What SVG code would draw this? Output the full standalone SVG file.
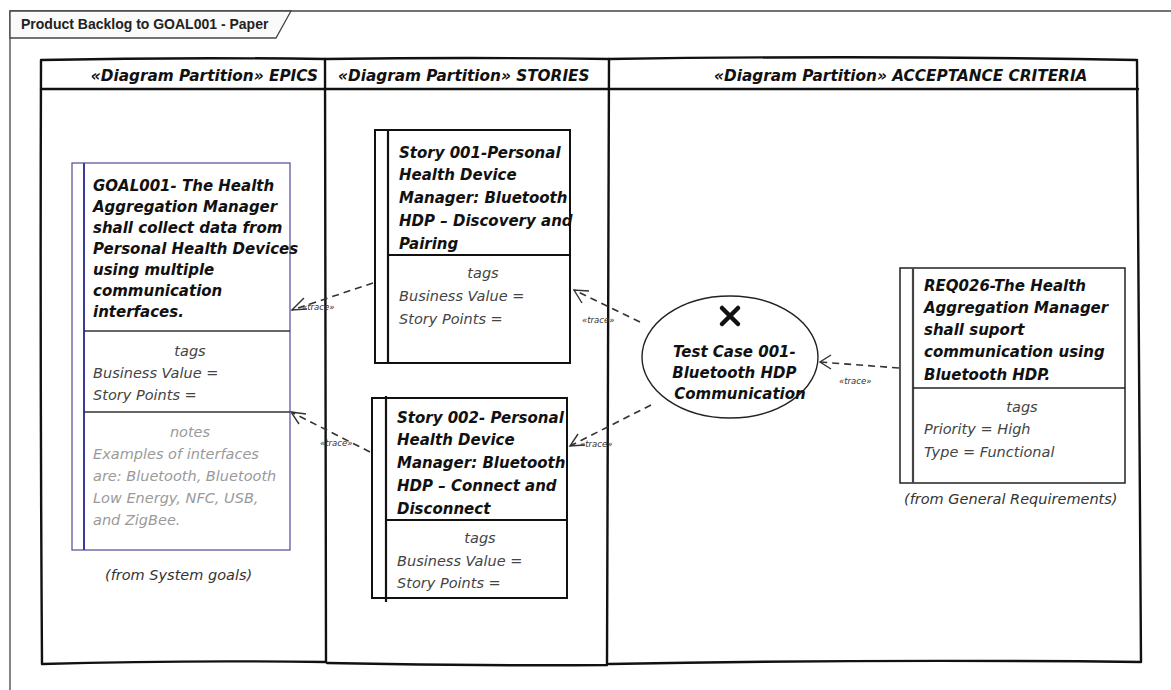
<svg xmlns="http://www.w3.org/2000/svg" width="1171" height="690" viewBox="0 0 1171 690">
  <defs>
    <style>
      .frame { fill: none; stroke: #444; stroke-width: 1.3; }
      .tab { fill: #fafafa; stroke: #444; stroke-width: 1.3; }
      .tabtxt { font-family: "Liberation Sans", Arial, sans-serif; font-weight: bold; font-size: 14px; fill: #222; }
      .part { fill: none; stroke: #111; stroke-width: 2.4; stroke-linejoin: round; stroke-linecap: round; }
      .phead { font-family: "DejaVu Sans", "Open Sans", sans-serif; font-style: italic; font-weight: bold; font-size: 15.3px; fill: #111; }
      .box { fill: #fff; stroke: #111; stroke-width: 2; }
      .boxblue { fill: #fff; stroke: #5a5a9a; stroke-width: 1.3; }
      .title { font-family: "DejaVu Sans", "Open Sans", sans-serif; font-style: italic; font-weight: bold; font-size: 15px; fill: #111; }
      .attr { font-family: "DejaVu Sans", "Open Sans", sans-serif; font-style: italic; font-size: 14.5px; fill: #444; }
      .note { font-family: "DejaVu Sans", "Open Sans", sans-serif; font-style: italic; font-size: 14.5px; fill: #9a9a9a; }
      .from { font-family: "DejaVu Sans", "Open Sans", sans-serif; font-style: italic; font-size: 14.5px; fill: #333; }
      .conn { fill: none; stroke: #333; stroke-width: 1.6; stroke-dasharray: 7 5; }
      .head { fill: none; stroke: #333; stroke-width: 1.4; }
      .lbl { font-family: "DejaVu Sans", "Open Sans", sans-serif; font-style: italic; font-size: 8.5px; fill: #333; }
    </style>
  </defs>

  <!-- diagram frame and name tab -->
  <g id="frame">
    <path class="frame" d="M10,690 L10,11 L1171,11"/>
    <path class="tab" d="M10,11 L291,11 L276,38 L10,38 Z"/>
    <text class="tabtxt" x="21" y="29">Product Backlog to GOAL001 - Paper</text>
  </g>

  <!-- partitions -->
  <g id="partition-epics">
    <path class="part" d="M41,60 Q180,57 325,59 L326,662 Q180,660 42,664 Q40,360 41,60 Z"/>
    <path class="part" d="M41,89 L325,89"/>
    <text class="phead" x="318" y="81" text-anchor="end">«Diagram Partition» EPICS</text>
  </g>
  <g id="partition-stories">
    <path class="part" d="M325,59 Q470,57 609,59 L607,665 Q470,666 327,663"/>
    <path class="part" d="M325,89 L609,89"/>
    <text class="phead" x="338" y="81">«Diagram Partition» STORIES</text>
  </g>
  <g id="partition-acceptance">
    <path class="part" d="M609,59 Q870,55 1137,60 L1141,662 Q870,659 609,664"/>
    <path class="part" d="M609,89 L1138,89"/>
    <text class="phead" x="714" y="81">«Diagram Partition» ACCEPTANCE CRITERIA</text>
  </g>

  <!-- connectors -->
  <g id="connectors">
    <path class="conn" d="M373,283 L292,310"/>
    <path class="head" d="M304,298 L292,310 L307,309"/>
    <text class="lbl" x="302" y="310">«trace»</text>

    <path class="conn" d="M370,452 L291,412"/>
    <path class="head" d="M299,424 L291,412 L306,414"/>
    <text class="lbl" x="320" y="446">«trace»</text>

    <path class="conn" d="M640,322 L574,290"/>
    <path class="head" d="M582,303 L574,290 L589,291"/>
    <text class="lbl" x="582" y="323">«trace»</text>

    <path class="conn" d="M651,405 L570,446"/>
    <path class="head" d="M578,434 L570,446 L585,445"/>
    <text class="lbl" x="580" y="447">«trace»</text>

    <path class="conn" d="M899,368 L820,362"/>
    <path class="head" d="M831,355 L820,362 L831,369"/>
    <text class="lbl" x="839" y="384">«trace»</text>
  </g>

  <!-- GOAL001 requirement -->
  <g id="goal001">
    <rect class="boxblue" x="72" y="163" width="218" height="387"/>
    <line x1="84" y1="163" x2="84" y2="550" stroke="#3a3aa0" stroke-width="2"/>
    <text class="title">
      <tspan x="93" y="191">GOAL001- The Health</tspan>
      <tspan x="93" y="212">Aggregation Manager</tspan>
      <tspan x="93" y="233">shall collect data from</tspan>
      <tspan x="93" y="254">Personal Health Devices</tspan>
      <tspan x="93" y="275">using multiple</tspan>
      <tspan x="93" y="296">communication</tspan>
      <tspan x="93" y="317">interfaces.</tspan>
    </text>
    <line x1="84" y1="331" x2="290" y2="331" stroke="#333" stroke-width="1.3"/>
    <text class="attr" x="190" y="356" text-anchor="middle">tags</text>
    <text class="attr" x="93" y="378">Business Value =</text>
    <text class="attr" x="93" y="400">Story Points =</text>
    <line x1="84" y1="412" x2="290" y2="412" stroke="#333" stroke-width="1.3"/>
    <text class="note" x="190" y="437" text-anchor="middle">notes</text>
    <text class="note" x="93" y="459">Examples of interfaces</text>
    <text class="note" x="93" y="481">are: Bluetooth, Bluetooth</text>
    <text class="note" x="93" y="503">Low Energy, NFC, USB,</text>
    <text class="note" x="93" y="525">and ZigBee.</text>
    <text class="from" x="105" y="580">(from System goals)</text>
  </g>

  <!-- Story 001 -->
  <g id="story001">
    <rect class="box" x="375" y="130" width="195" height="233"/>
    <line x1="388" y1="130" x2="388" y2="363" stroke="#111" stroke-width="2.2"/>
    <text class="title">
      <tspan x="399" y="158">Story 001-Personal</tspan>
      <tspan x="399" y="180">Health Device</tspan>
      <tspan x="399" y="203">Manager: Bluetooth</tspan>
      <tspan x="399" y="226">HDP – Discovery and</tspan>
      <tspan x="399" y="249">Pairing</tspan>
    </text>
    <line x1="388" y1="255" x2="570" y2="255" stroke="#111" stroke-width="2"/>
    <text class="attr" x="483" y="278" text-anchor="middle">tags</text>
    <text class="attr" x="399" y="301">Business Value =</text>
    <text class="attr" x="399" y="324">Story Points =</text>
  </g>

  <!-- Story 002 -->
  <g id="story002">
    <rect class="box" x="372" y="398" width="195" height="200"/>
    <line x1="386" y1="396" x2="386" y2="602" stroke="#111" stroke-width="2.2"/>
    <text class="title">
      <tspan x="397" y="423">Story 002- Personal</tspan>
      <tspan x="397" y="445">Health Device</tspan>
      <tspan x="397" y="468">Manager: Bluetooth</tspan>
      <tspan x="397" y="491">HDP – Connect and</tspan>
      <tspan x="397" y="514">Disconnect</tspan>
    </text>
    <line x1="386" y1="520" x2="567" y2="520" stroke="#111" stroke-width="2"/>
    <text class="attr" x="480" y="543" text-anchor="middle">tags</text>
    <text class="attr" x="397" y="566">Business Value =</text>
    <text class="attr" x="397" y="588">Story Points =</text>
  </g>

  <!-- Test Case 001 -->
  <g id="testcase001">
    <ellipse cx="730" cy="357" rx="88" ry="61" fill="#fff" stroke="#222" stroke-width="1.4"/>
    <path d="M722,308 L738,324 M738,308 L722,324" stroke="#111" stroke-width="4.5" stroke-linecap="round"/>
    <text class="title" text-anchor="middle">
      <tspan x="737" y="357">Test Case 001-</tspan>
      <tspan x="737" y="378">Bluetooth HDP</tspan>
      <tspan x="740" y="399">Communication</tspan>
    </text>
  </g>

  <!-- REQ026 -->
  <g id="req026">
    <rect x="900" y="268" width="225" height="215" fill="#fff" stroke="#222" stroke-width="1.5"/>
    <line x1="913" y1="268" x2="913" y2="483" stroke="#444" stroke-width="2.2"/>
    <text class="title">
      <tspan x="924" y="291">REQ026-The Health</tspan>
      <tspan x="924" y="313">Aggregation Manager</tspan>
      <tspan x="924" y="335">shall suport</tspan>
      <tspan x="924" y="357">communication using</tspan>
      <tspan x="924" y="380">Bluetooth HDP.</tspan>
    </text>
    <line x1="913" y1="388" x2="1125" y2="388" stroke="#222" stroke-width="1.3"/>
    <text class="attr" x="1022" y="412" text-anchor="middle">tags</text>
    <text class="attr" x="924" y="434">Priority = High</text>
    <text class="attr" x="924" y="457">Type = Functional</text>
    <text class="from" x="904" y="504">(from General Requirements)</text>
  </g>
</svg>
